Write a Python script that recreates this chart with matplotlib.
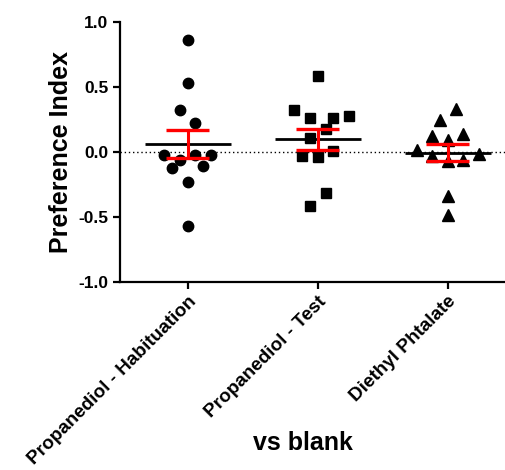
import numpy as np
import matplotlib
matplotlib.use("Agg")
import matplotlib.pyplot as plt

plt.rcParams['font.family'] = ['Liberation Sans', 'DejaVu Sans']
plt.rcParams['font.weight'] = 'bold'

groups = ["Propanediol - Habituation", "Propanediol - Test", "Diethyl Phtalate"]

# preference index per animal
habituation = [0.863, 0.53, 0.32, 0.22, -0.02, -0.02, -0.06, -0.02, -0.12, -0.11, -0.23, -0.57]
test = [0.586, 0.32, 0.264, 0.258, 0.276, 0.178, 0.108, -0.034, -0.042, 0.005, -0.318, -0.416]
phtalate = [0.328, 0.25, 0.12, 0.14, 0.09, 0.012, -0.013, -0.034, -0.073, -0.06, -0.34, -0.486]

# scatter column of each point (side-by-side slots so points don't overlap)
hab_slots = [0, 0, -1, 1, -3, 3, -1, 1, -2, 2, 0, 0]
test_slots = [0, -3, -1, 2, 4, 1, -1, -2, 0, 2, 1, -1]
pht_slots = [1, -1, -2, 2, 0, -4, 4, -2, 0, 2, 0, 0]

series = [habituation, test, phtalate]
slots = [hab_slots, test_slots, pht_slots]
markers = ['o', 's', '^']
sizes = [7.5, 7.5, 8]

fig = plt.figure(figsize=(5.05, 4.7), dpi=100)
ax = fig.add_axes([120 / 505, 188 / 470, 385 / 505, 260 / 470])

ax.axhline(0, color='black', lw=1, ls=(0, (1, 2)), zorder=1)

step = 0.06
for i, (vals, sl, m, ms) in enumerate(zip(series, slots, markers, sizes)):
    pos = i + 1
    vals = np.array(vals)
    xs = pos + step * np.array(sl)
    ax.plot(xs, vals, ls='none', marker=m, ms=ms, color='black', mec='black', zorder=3)
    mean = vals.mean()
    sem = vals.std(ddof=1) / np.sqrt(len(vals))
    ax.hlines(mean, pos - 0.33, pos + 0.33, color='black', lw=2, zorder=4)
    ax.vlines(pos, mean - sem, mean + sem, color='red', lw=2.2, zorder=5)
    ax.hlines([mean - sem, mean + sem], pos - 0.165, pos + 0.165, color='red', lw=2.4, zorder=5)

ax.set_xlim(0.48, 3.44)
ax.set_ylim(-1.0, 1.0)
ax.set_yticks([-1.0, -0.5, 0.0, 0.5, 1.0])
ax.set_yticklabels(['-1.0', '-0.5', '0.0', '0.5', '1.0'], fontsize=12.5)
ax.set_xticks([1, 2, 3])
ax.set_xticklabels(groups, rotation=45, ha='right', rotation_mode='anchor', fontsize=13.6)

for s in ['top', 'right']:
    ax.spines[s].set_visible(False)
for s in ['left', 'bottom']:
    ax.spines[s].set_linewidth(1.6)
ax.tick_params(axis='both', width=1.6, length=5)
ax.tick_params(axis='x', pad=3)

ax.set_ylabel('Preference Index', fontsize=18, fontweight='bold', labelpad=4)
ax.set_xlabel('vs blank', fontsize=18, fontweight='bold', va='center')
ax.xaxis.set_label_coords((303 - 120) / 385, -(443 - 282) / 260)

fig.savefig('out.png', dpi=100)
